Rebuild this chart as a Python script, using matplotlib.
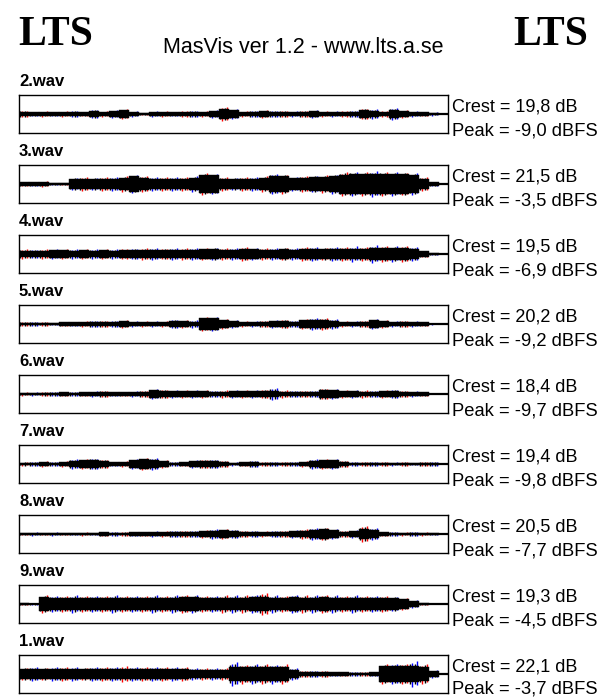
import numpy as np
import matplotlib
matplotlib.use("Agg")
import matplotlib.pyplot as plt

# track names in display order
tracks = ["2.wav", "3.wav", "4.wav", "5.wav", "6.wav", "7.wav", "8.wav", "9.wav", "1.wav"]
crest_db = ["19,8", "21,5", "19,5", "20,2", "18,4", "19,4", "20,5", "19,3", "22,1"]
peak_dbfs = ["-9,0", "-3,5", "-6,9", "-9,2", "-9,7", "-9,8", "-7,7", "-4,5", "-3,7"]

# waveform envelopes (fraction of full scale, 43 blocks per track)
body_2 = [0.13, 0.08, 0.09, 0.08, 0.10, 0.11, 0.09, 0.16, 0.11, 0.15, 0.20, 0.09, 0.04, 0.08, 0.10,
          0.09, 0.10, 0.12, 0.10, 0.14, 0.24, 0.20, 0.10, 0.11, 0.14, 0.13, 0.12, 0.10, 0.12, 0.14,
          0.10, 0.09, 0.10, 0.12, 0.20, 0.18, 0.10, 0.21, 0.14, 0.09, 0.08, 0.06, 0.0]
peak_2 = [0.18, 0.12, 0.15, 0.12, 0.15, 0.16, 0.13, 0.22, 0.15, 0.20, 0.26, 0.14, 0.06, 0.14, 0.15,
          0.13, 0.16, 0.17, 0.15, 0.20, 0.35, 0.27, 0.15, 0.17, 0.20, 0.18, 0.17, 0.15, 0.18, 0.20,
          0.15, 0.14, 0.16, 0.18, 0.28, 0.25, 0.16, 0.30, 0.20, 0.14, 0.12, 0.08, 0.0]

body_3 = [0.10, 0.08, 0.10, 0.04, 0.05, 0.24, 0.26, 0.26, 0.27, 0.27, 0.32, 0.40, 0.33, 0.26, 0.27,
          0.26, 0.28, 0.30, 0.47, 0.45, 0.27, 0.25, 0.27, 0.28, 0.30, 0.44, 0.42, 0.30, 0.33, 0.35,
          0.36, 0.40, 0.50, 0.53, 0.53, 0.54, 0.55, 0.53, 0.52, 0.48, 0.28, 0.08, 0.0]
peak_3 = [0.12, 0.10, 0.14, 0.05, 0.06, 0.34, 0.35, 0.34, 0.36, 0.36, 0.40, 0.46, 0.42, 0.35, 0.36,
          0.35, 0.37, 0.40, 0.56, 0.54, 0.35, 0.33, 0.35, 0.37, 0.40, 0.54, 0.50, 0.38, 0.42, 0.44,
          0.45, 0.50, 0.62, 0.65, 0.63, 0.67, 0.64, 0.62, 0.60, 0.56, 0.36, 0.10, 0.0]

body_4 = [0.17, 0.17, 0.18, 0.19, 0.19, 0.18, 0.19, 0.18, 0.19, 0.18, 0.19, 0.20, 0.20, 0.21, 0.20,
          0.21, 0.20, 0.22, 0.24, 0.24, 0.22, 0.23, 0.25, 0.24, 0.23, 0.23, 0.24, 0.23, 0.25, 0.26,
          0.24, 0.26, 0.27, 0.28, 0.28, 0.30, 0.30, 0.29, 0.30, 0.28, 0.14, 0.05, 0.0]
peak_4 = [0.24, 0.23, 0.26, 0.27, 0.27, 0.25, 0.27, 0.26, 0.27, 0.25, 0.28, 0.28, 0.29, 0.30, 0.28,
          0.30, 0.29, 0.31, 0.33, 0.34, 0.31, 0.32, 0.35, 0.33, 0.32, 0.32, 0.34, 0.32, 0.35, 0.36,
          0.34, 0.37, 0.38, 0.40, 0.38, 0.45, 0.41, 0.40, 0.42, 0.38, 0.18, 0.06, 0.0]

body_5 = [0.07, 0.07, 0.06, 0.03, 0.08, 0.08, 0.10, 0.11, 0.12, 0.11, 0.14, 0.10, 0.09, 0.10, 0.09,
          0.16, 0.14, 0.13, 0.30, 0.30, 0.20, 0.15, 0.10, 0.09, 0.12, 0.14, 0.15, 0.12, 0.20, 0.22,
          0.22, 0.17, 0.10, 0.09, 0.12, 0.20, 0.14, 0.10, 0.12, 0.10, 0.09, 0.02, 0.0]
peak_5 = [0.12, 0.11, 0.10, 0.04, 0.12, 0.12, 0.15, 0.17, 0.18, 0.16, 0.20, 0.15, 0.14, 0.15, 0.14,
          0.22, 0.20, 0.19, 0.35, 0.36, 0.27, 0.21, 0.15, 0.14, 0.18, 0.20, 0.22, 0.18, 0.27, 0.30,
          0.29, 0.24, 0.15, 0.14, 0.18, 0.26, 0.20, 0.15, 0.18, 0.15, 0.13, 0.03, 0.0]

body_6 = [0.05, 0.05, 0.06, 0.07, 0.08, 0.07, 0.08, 0.10, 0.12, 0.08, 0.08, 0.10, 0.13, 0.20, 0.17,
          0.14, 0.15, 0.14, 0.14, 0.13, 0.13, 0.15, 0.14, 0.15, 0.16, 0.18, 0.13, 0.13, 0.12, 0.13,
          0.22, 0.20, 0.15, 0.14, 0.13, 0.12, 0.14, 0.16, 0.12, 0.10, 0.08, 0.0, 0.0]
peak_6 = [0.09, 0.08, 0.10, 0.11, 0.13, 0.11, 0.12, 0.15, 0.17, 0.12, 0.12, 0.15, 0.18, 0.26, 0.23,
          0.20, 0.21, 0.20, 0.19, 0.18, 0.19, 0.21, 0.20, 0.21, 0.22, 0.33, 0.19, 0.18, 0.17, 0.18,
          0.28, 0.26, 0.21, 0.20, 0.19, 0.17, 0.20, 0.22, 0.17, 0.15, 0.12, 0.0, 0.0]

body_7 = [0.07, 0.07, 0.09, 0.07, 0.10, 0.18, 0.20, 0.22, 0.17, 0.08, 0.09, 0.20, 0.24, 0.22, 0.15,
          0.07, 0.08, 0.14, 0.17, 0.17, 0.13, 0.06, 0.08, 0.12, 0.06, 0.07, 0.06, 0.07, 0.10, 0.18,
          0.20, 0.19, 0.12, 0.06, 0.06, 0.06, 0.06, 0.05, 0.06, 0.04, 0.07, 0.07, 0.0]
peak_7 = [0.09, 0.10, 0.14, 0.10, 0.15, 0.25, 0.27, 0.28, 0.23, 0.12, 0.14, 0.27, 0.32, 0.29, 0.20,
          0.10, 0.12, 0.19, 0.23, 0.22, 0.18, 0.09, 0.13, 0.16, 0.10, 0.12, 0.10, 0.11, 0.15, 0.24,
          0.26, 0.25, 0.17, 0.10, 0.10, 0.11, 0.10, 0.09, 0.10, 0.07, 0.11, 0.10, 0.0]

body_8 = [0.03, 0.04, 0.03, 0.04, 0.03, 0.03, 0.04, 0.03, 0.08, 0.06, 0.06, 0.08, 0.08, 0.10, 0.10,
          0.11, 0.12, 0.12, 0.14, 0.17, 0.20, 0.15, 0.12, 0.11, 0.10, 0.11, 0.12, 0.15, 0.17, 0.22,
          0.26, 0.20, 0.12, 0.14, 0.28, 0.22, 0.08, 0.07, 0.06, 0.07, 0.06, 0.05, 0.0]
peak_8 = [0.06, 0.08, 0.06, 0.08, 0.05, 0.06, 0.08, 0.06, 0.12, 0.10, 0.10, 0.13, 0.13, 0.15, 0.15,
          0.17, 0.18, 0.18, 0.20, 0.24, 0.27, 0.22, 0.18, 0.16, 0.15, 0.16, 0.18, 0.21, 0.24, 0.30,
          0.34, 0.27, 0.18, 0.20, 0.41, 0.30, 0.12, 0.10, 0.09, 0.10, 0.09, 0.07, 0.0]

body_9 = [0.03, 0.02, 0.36, 0.33, 0.33, 0.34, 0.33, 0.34, 0.33, 0.34, 0.33, 0.33, 0.33, 0.34, 0.33,
          0.34, 0.35, 0.35, 0.34, 0.33, 0.34, 0.34, 0.34, 0.35, 0.36, 0.34, 0.33, 0.35, 0.34, 0.34,
          0.35, 0.34, 0.33, 0.34, 0.33, 0.32, 0.32, 0.30, 0.25, 0.15, 0.05, 0.0, 0.0]
peak_9 = [0.06, 0.04, 0.46, 0.42, 0.42, 0.45, 0.43, 0.44, 0.42, 0.46, 0.43, 0.44, 0.43, 0.45, 0.44,
          0.45, 0.47, 0.46, 0.44, 0.43, 0.45, 0.46, 0.45, 0.47, 0.60, 0.45, 0.44, 0.47, 0.46, 0.45,
          0.47, 0.46, 0.44, 0.45, 0.44, 0.43, 0.42, 0.39, 0.32, 0.20, 0.07, 0.0, 0.0]

body_1 = [0.24, 0.25, 0.24, 0.24, 0.25, 0.24, 0.24, 0.26, 0.25, 0.25, 0.26, 0.26, 0.25, 0.25, 0.25,
          0.24, 0.24, 0.23, 0.22, 0.23, 0.22, 0.36, 0.37, 0.38, 0.38, 0.37, 0.37, 0.20, 0.12, 0.12,
          0.11, 0.09, 0.09, 0.07, 0.07, 0.08, 0.40, 0.40, 0.41, 0.40, 0.38, 0.15, 0.0]
peak_1 = [0.34, 0.36, 0.34, 0.35, 0.37, 0.35, 0.34, 0.38, 0.36, 0.36, 0.42, 0.38, 0.36, 0.37, 0.36,
          0.35, 0.35, 0.33, 0.32, 0.33, 0.32, 0.65, 0.50, 0.52, 0.52, 0.50, 0.51, 0.30, 0.18, 0.18,
          0.16, 0.13, 0.13, 0.10, 0.10, 0.12, 0.52, 0.53, 0.55, 0.66, 0.52, 0.20, 0.0]

bodies = [body_2, body_3, body_4, body_5, body_6, body_7, body_8, body_9, body_1]
peaks = [peak_2, peak_3, peak_4, peak_5, peak_6, peak_7, peak_8, peak_9, peak_1]

W, H = 603, 697
fig = plt.figure(figsize=(W / 100, H / 100), dpi=100)
fig.patch.set_facecolor("white")


def fx(px):
    return px / W


def fy(py):
    return 1 - py / H


# header
fig.text(fx(18), fy(45), "LTS", family="Liberation Serif", weight="bold", fontsize=30, va="baseline")
fig.text(fx(588), fy(45), "LTS", family="Liberation Serif", weight="bold", fontsize=30, va="baseline", ha="right")
fig.text(fx(303), fy(53), "MasVis ver 1.2 - www.lts.a.se", family="Liberation Sans", fontsize=15.5,
         va="baseline", ha="center")

box_left, box_right = 19, 448
box_h = 38
for k, name in enumerate(tracks):
    top = 95 + 70 * k
    ax = fig.add_axes([fx(box_left), fy(top + box_h), fx(box_right - box_left), box_h / H])
    body = np.array(bodies[k])
    peak = np.array(peaks[k])
    x = np.arange(len(body)) + 0.5

    # red / blue channel spikes sit behind the black body
    cols = ["red" if i % 2 == 0 else "blue" for i in range(len(x))]
    ax.vlines(x - 0.25, -peak, peak * 0.85, colors=cols, linewidth=1.0, zorder=1)
    ax.vlines(x + 0.3, -peak * 0.85, peak, colors=cols[::-1], linewidth=1.0, zorder=1)
    ax.bar(x, 2 * body, bottom=-body, width=1.0, color="black", edgecolor="black",
           linewidth=0.3, zorder=2)
    mid = (body + peak) / 2
    ax.vlines(x + 0.05, -mid, mid, colors="black", linewidth=1.0, zorder=2)
    ax.vlines(x - 0.4, -mid * 0.95, mid * 0.95, colors="black", linewidth=1.0, zorder=2)
    ax.axhline(0, color="black", linewidth=1.6, zorder=3)

    ax.set_xlim(0, (box_right - box_left) / 10)
    ax.set_ylim(-1, 1)
    ax.set_xticks([])
    ax.set_yticks([])
    for s in ax.spines.values():
        s.set_linewidth(1.0)
        s.set_color("black")
        s.set_zorder(4)

    fig.text(fx(19), fy(top - 9), name, family="Liberation Sans", weight="bold", fontsize=12,
             va="baseline")
    fig.text(fx(452), fy(top + 17), "Crest = " + crest_db[k] + " dB", family="Liberation Sans",
             fontsize=13, va="baseline")
    # keep the last line inside the canvas
    peak_y = min(top + 41, 693)
    fig.text(fx(452), fy(peak_y), "Peak = " + peak_dbfs[k] + " dBFS", family="Liberation Sans",
             fontsize=13.2, va="baseline")

fig.savefig("out.png", dpi=100, facecolor="white")
